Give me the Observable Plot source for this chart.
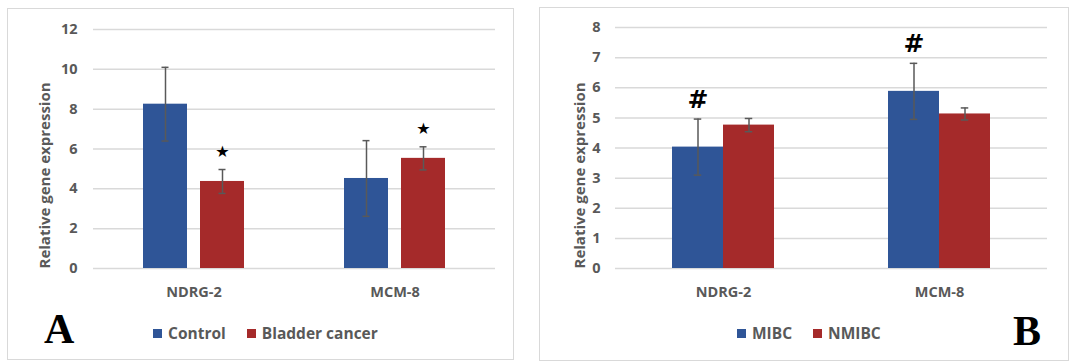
<!DOCTYPE html>
<html>
<head>
<meta charset="utf-8">
<script src="https://cdn.jsdelivr.net/npm/d3@7"></script>
<script src="https://cdn.jsdelivr.net/npm/@observablehq/plot@0.6"></script>
<style>
  html, body { margin: 0; padding: 0; background: #fff; }
  body { width: 1070px; height: 362px; position: relative; overflow: hidden; font-family: "Open Sans", sans-serif; }
  .frame { position: absolute; border: 1.5px solid #d9d9d9; box-sizing: border-box; }
  .plot { position: absolute; top: 0; }
  .legend { position: absolute; display: flex; align-items: center; font-size: 15.5px; font-weight: 700; color: #595959; white-space: nowrap; }
  .legend .sw { display: inline-block; width: 9px; height: 9px; margin-right: 6px; }
  .legend .item { display: flex; align-items: center; }
  .letter { position: absolute; font-family: "Liberation Serif", "DejaVu Serif", serif; font-weight: bold; font-size: 42px; color: #000; line-height: 1; }
</style>
</head>
<body>
<div class="frame" style="left:7px; top:8px; width:507px; height:352px;"></div>
<div class="frame" style="left:539px; top:7px; width:530px; height:354px;"></div>
<div id="plotA" class="plot" style="left:0px;"></div>
<div id="plotB" class="plot" style="left:530px;"></div>
<div id="legendA" class="legend" style="left:153px; top:322px;"></div>
<div id="legendB" class="legend" style="left:737px; top:322px;"></div>
<div class="letter" style="left:44px; top:308px;">A</div>
<div class="letter" style="left:1013px; top:310px;">B</div>
<script>
// ---- Data ----
const genes = ["NDRG-2", "MCM-8"];

// Panel A
const groupsA = ["Control", "Bladder cancer"];
const colorsA = ["#2f5597", "#a52a2a"];
const meanControl = [8.25, 4.52];
const errControl = [1.85, 1.9];
const meanCancer = [4.37, 5.53];
const errCancer = [0.6, 0.58];
const sigControl = ["", ""];
const sigCancer = ["★", "★"];
const ticksA = [0, 2, 4, 6, 8, 10, 12];

// Panel B
const groupsB = ["MIBC", "NMIBC"];
const colorsB = ["#2f5597", "#a52a2a"];
const meanMIBC = [4.03, 5.88];
const errMIBC = [0.93, 0.93];
const meanNMIBC = [4.76, 5.13];
const errNMIBC = [0.22, 0.2];
const sigMIBC = ["#", "#"];
const sigNMIBC = ["", ""];
const ticksB = [0, 1, 2, 3, 4, 5, 6, 7, 8];

const yLabel = "Relative gene expression";

function buildRows(groups, means, errs, sigs) {
  const rows = [];
  groups.forEach((g, gi) => genes.forEach((gene, i) => rows.push({
    gene, group: g, mean: means[gi][i], err: errs[gi][i], sig: sigs[gi][i]
  })));
  return rows;
}

function panel(o) {
  const rows = buildRows(o.groups, o.means, o.errs, o.sigs);
  const hi = d => d.mean + d.err;
  const lo = d => d.mean - d.err;
  return Plot.plot({
    width: o.width,
    height: o.height,
    marginLeft: o.marginLeft,
    marginRight: o.marginRight,
    marginTop: o.marginTop,
    marginBottom: o.marginBottom,
    style: { background: "transparent", fontFamily: "Open Sans", fontSize: "14px", color: "#595959", overflow: "visible" },
    fx: { domain: genes, padding: 0, label: null, axis: null },
    x: { domain: o.groups, axis: null, paddingInner: o.paddingInner, paddingOuter: o.paddingOuter },
    y: { domain: [0, o.ticks[o.ticks.length - 1]], axis: null },
    color: { domain: o.groups, range: o.colors },
    marks: [
      Plot.gridY(o.ticks, { stroke: "#d9d9d9", strokeOpacity: 1, strokeWidth: 1.5 }),
      Plot.axisY({ ticks: o.ticks, tickSize: 0, tickPadding: o.tickPadding, fontWeight: 700, fontSize: 14.5, label: null }),
      Plot.text([{ gene: genes[0], label: yLabel }], {
        fx: "gene", text: "label", frameAnchor: "bottom-left", rotate: -90,
        textAnchor: "start", lineAnchor: "top", dx: -o.labelOffset,
        fontWeight: 700, fontSize: 15, fill: "#595959"
      }),
      Plot.axisFx({ anchor: "bottom", tickSize: 0, tickPadding: 18, fontWeight: 700, fontSize: 14.5, label: null }),
      Plot.barY(rows, { fx: "gene", x: "group", y: "mean", fill: "group", inset: 0 }),
      Plot.ruleX(rows, { fx: "gene", x: "group", y1: lo, y2: hi, stroke: "#595959", strokeWidth: 1.5 }),
      Plot.tickY(rows, { fx: "gene", x: "group", y: hi, stroke: "#595959", strokeWidth: 1.5, insetLeft: o.capInset, insetRight: o.capInset }),
      Plot.tickY(rows, { fx: "gene", x: "group", y: lo, stroke: "#595959", strokeWidth: 1.5, insetLeft: o.capInset, insetRight: o.capInset }),
      Plot.text(rows, { fx: "gene", x: "group", y: hi, text: "sig", dy: o.sigDy, fontSize: o.sigSize, fontWeight: "bold", fill: "#000", fontFamily: o.sigFont })
    ]
  });
}

document.getElementById("plotA").appendChild(panel({
  groups: groupsA, colors: colorsA,
  means: [meanControl, meanCancer], errs: [errControl, errCancer], sigs: [sigControl, sigCancer],
  ticks: ticksA,
  width: 520, height: 310, marginLeft: 92, marginRight: 25, marginTop: 29, marginBottom: 42,
  paddingInner: 0.224, paddingOuter: 0.849, capInset: 18.5, tickPadding: 16, labelOffset: 54,
  sigSize: 16, sigDy: -18, sigFont: "DejaVu Sans"
}));

document.getElementById("plotB").appendChild(panel({
  groups: groupsB, colors: colorsB,
  means: [meanMIBC, meanNMIBC], errs: [errMIBC, errNMIBC], sigs: [sigMIBC, sigNMIBC],
  ticks: ticksB,
  width: 540, height: 310, marginLeft: 85, marginRight: 23, marginTop: 27, marginBottom: 42,
  paddingInner: 0, paddingOuter: 1.097, capInset: 21.75, tickPadding: 15, labelOffset: 41,
  sigSize: 25, sigDy: -19, sigFont: "DejaVu Sans"
}));

function legend(id, groups, colors) {
  const el = document.getElementById(id);
  groups.forEach((g, i) => {
    const item = document.createElement("span");
    item.className = "item";
    item.style.marginRight = i < groups.length - 1 ? "21px" : "0";
    const sw = document.createElement("span");
    sw.className = "sw";
    sw.style.background = colors[i];
    item.appendChild(sw);
    item.appendChild(document.createTextNode(g));
    el.appendChild(item);
  });
}
legend("legendA", groupsA, colorsA);
legend("legendB", groupsB, colorsB);
</script>
</body>
</html>
